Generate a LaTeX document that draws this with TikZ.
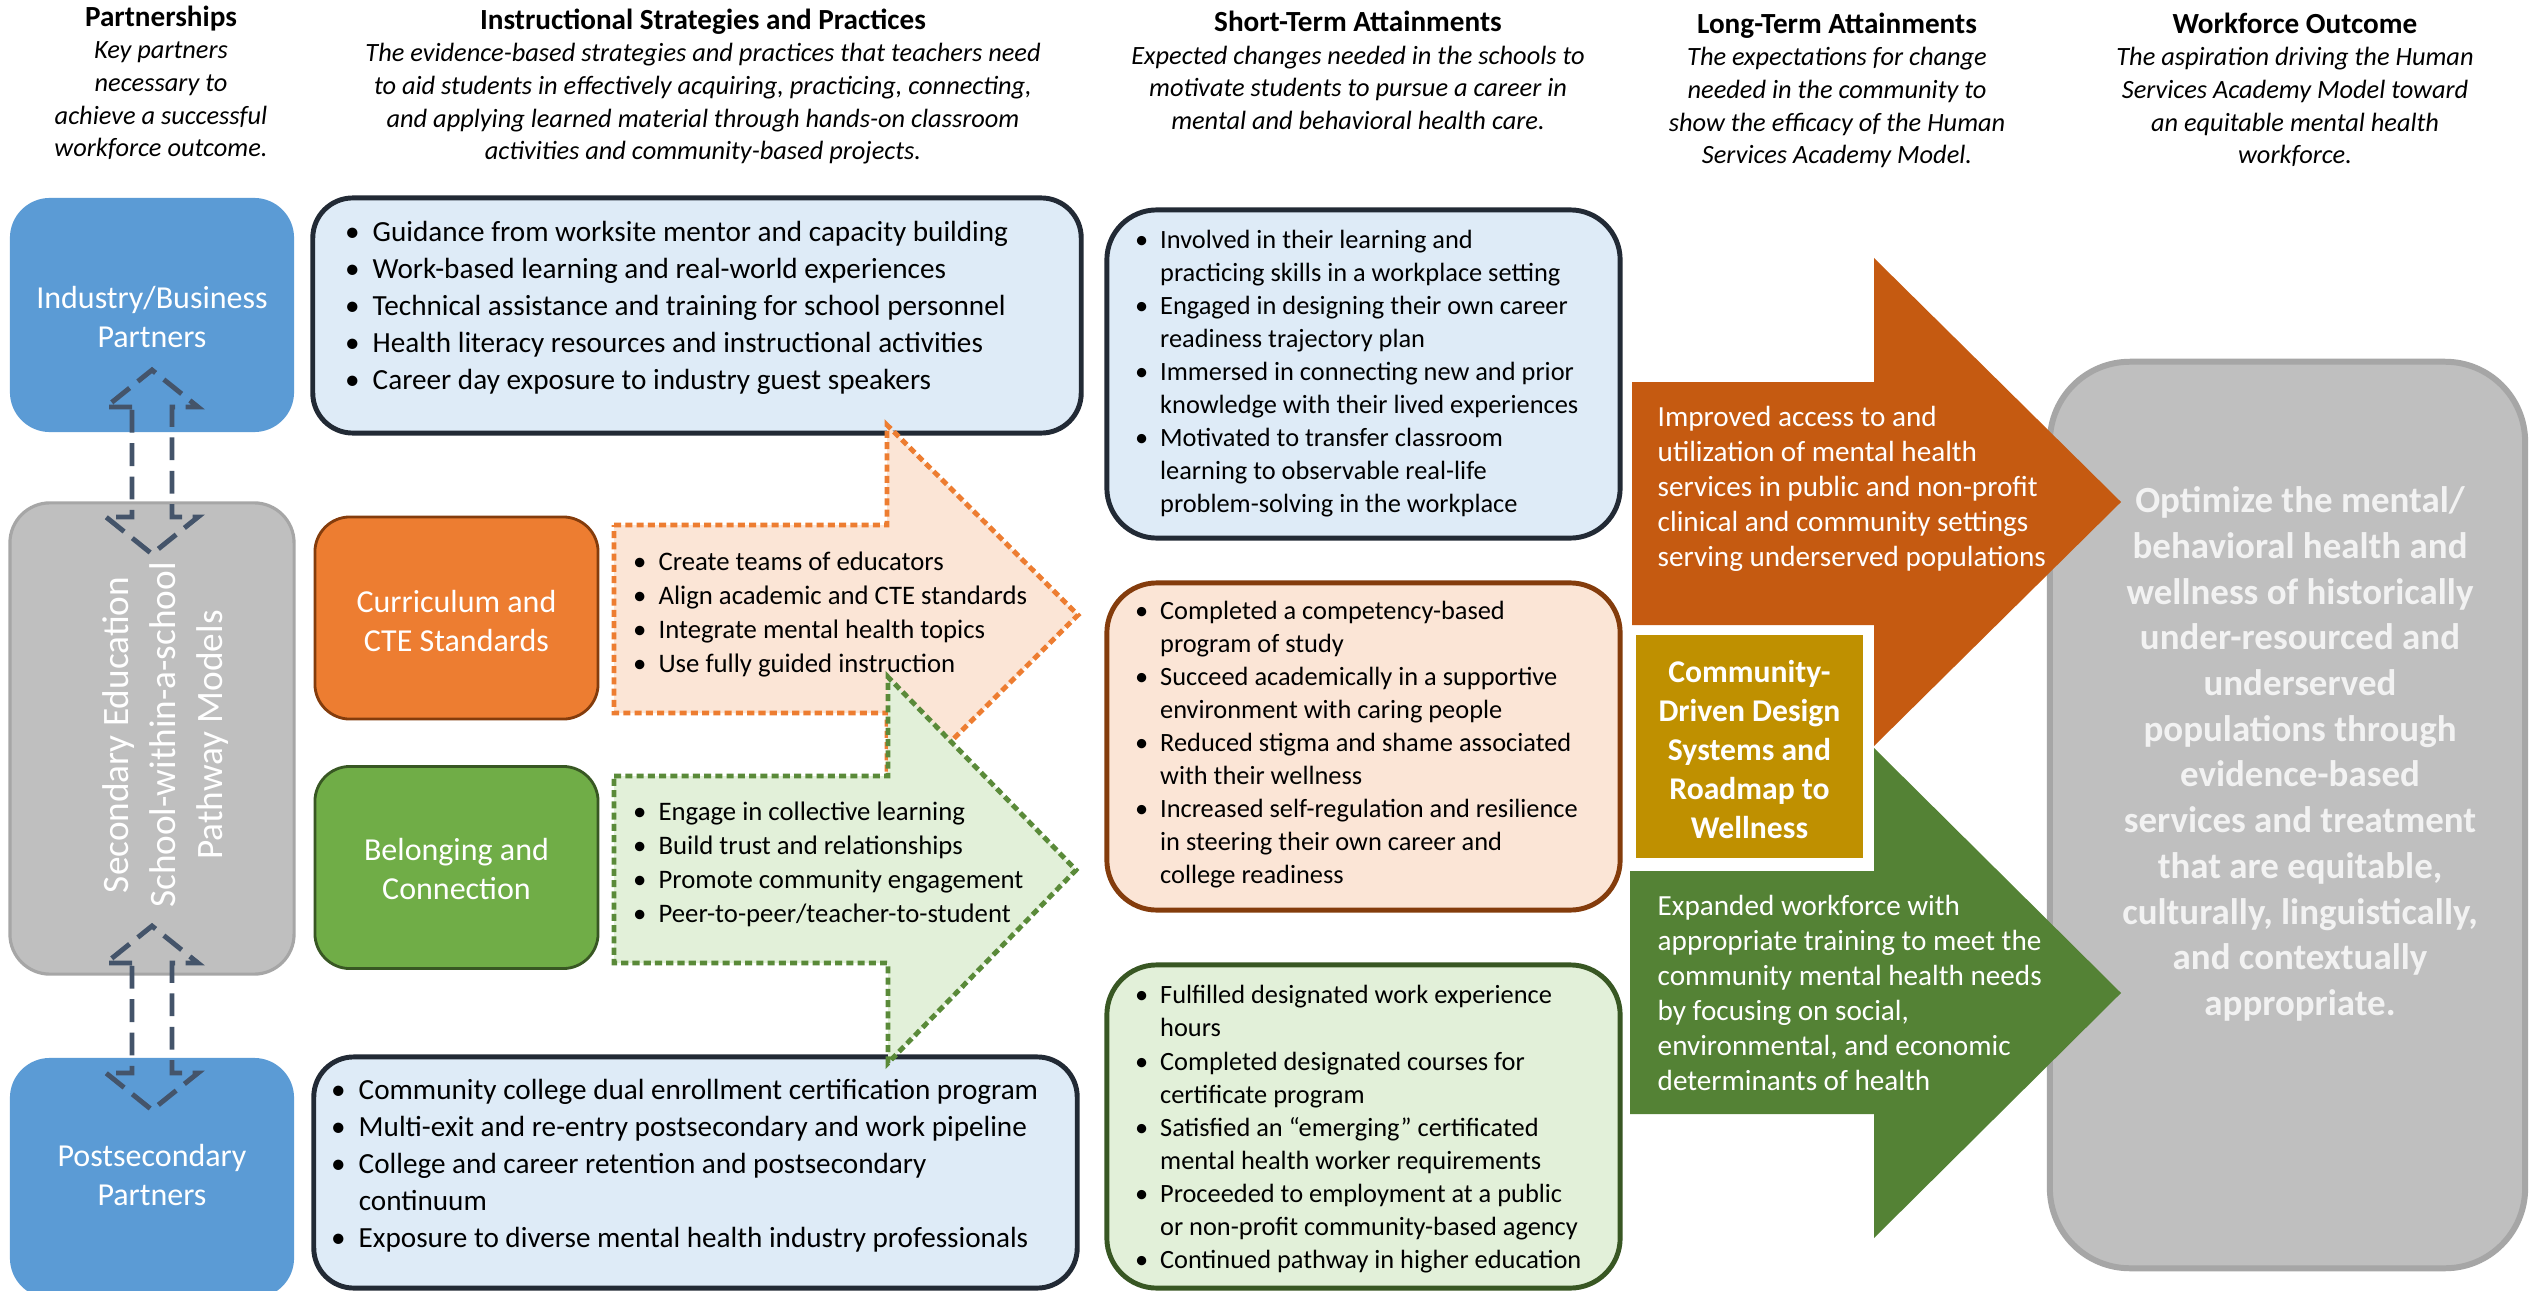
\documentclass[tikz,border=0pt]{standalone}
\usepackage{fontspec}
\setmainfont{Carlito}
\usepackage{tikz}

\definecolor{indblue}{HTML}{5B9BD5}
\definecolor{secgray}{HTML}{BFBFBF}
\definecolor{secedge}{HTML}{A6A6A6}
\definecolor{curorange}{HTML}{ED7D31}
\definecolor{curedge}{HTML}{843C0C}
\definecolor{belgreen}{HTML}{70AD47}
\definecolor{beledge}{HTML}{385723}
\definecolor{paleblue}{HTML}{DEEBF7}
\definecolor{darkedge}{HTML}{222A35}
\definecolor{palepeach}{HTML}{FBE5D6}
\definecolor{palegreen}{HTML}{E2F0D9}
\definecolor{arrowgray}{HTML}{44546A}
\definecolor{ltorange}{HTML}{C55A11}
\definecolor{ltgreen}{HTML}{548235}
\definecolor{gold}{HTML}{BF9000}
\definecolor{outtext}{HTML}{F2F2F2}

\newcommand{\bu}{\makebox[0.95em][l]{\textbullet}}
\newcommand{\nb}{\hspace*{0.95em}}
\newcommand{\hd}[1]{{\upshape\bfseries\fontsize{8.3}{9.25}\selectfont #1}}
\newcommand{\leftlines}[1]{\begin{tabular}{@{}l@{}}#1\end{tabular}}
\newcommand{\midlines}[1]{\begin{tabular}{@{}c@{}}#1\end{tabular}}

\begin{document}
\begin{tikzpicture}[x=0.01cm, y=-0.01cm,
    hdr/.style={font=\itshape\fontsize{7.5}{9.25}\selectfont, inner sep=0pt},
    list/.style={anchor=west, inner sep=0pt},
    label/.style={inner sep=0pt, text=white, font=\fontsize{9.1}{11.1}\selectfont},
    box/.style={rounded corners=0.4cm, line width=1.4pt, inner sep=0pt},
    partner/.style={box, fill=indblue, minimum width=2.84cm},
    theme/.style={box, rounded corners=0.35cm, line width=0.8pt, minimum width=2.83cm,
        minimum height=2.02cm},
    stbox/.style={box, rounded corners=0.5cm, minimum width=5.13cm},
    dotarrow/.style={line width=1.4pt, dash pattern=on 2pt off 1.2pt},
    dasharrow/.style={draw=arrowgray, line width=1.4pt, dash pattern=on 6.5pt off 3pt}]

    \path[use as bounding box, fill=white] (0,0) rectangle (2545,1291);

    %Column headers
    \node[hdr] (hpart) at (161,85) {\midlines{\hd{Partnerships}\\ Key partners\\ necessary to\\
        achieve a successful\\ workforce outcome.}};
    \node[hdr] (hinst) at (703,88) {\midlines{\hd{Instructional Strategies and Practices}\\
        The evidence-based strategies and practices that teachers need\\
        to aid students in effectively acquiring, practicing, connecting,\\
        and applying learned material through hands-on classroom\\
        activities and community-based projects.}};
    \node[hdr] (hshort) at (1358,74) {\midlines{\hd{Short-Term Attainments}\\
        Expected changes needed in the schools to\\ motivate students to pursue a career in\\
        mental and behavioral health care.}};
    \node[hdr] (hlong) at (1837,92) {\midlines{\hd{Long-Term Attainments}\\
        The expectations for change\\ needed in the community to\\
        show the efficacy of the Human\\ Services Academy Model.}};
    \node[hdr] (hwork) at (2295,92) {\midlines{\hd{Workforce Outcome}\\
        The aspiration driving the Human\\ Services Academy Model toward\\
        an equitable mental health\\ workforce.}};

    %Partners
    \node[partner, minimum height=2.34cm] (industry) at (152,315) {};
    \node[label] (industrytxt) at ([yshift=-0.055cm]industry.center) {\midlines{Industry/Business\\ Partners}};
    \node[box, fill=secgray, draw=secedge, line width=0.9pt, minimum width=2.84cm,
        minimum height=4.71cm] (secondary) at (152,738.5) {};
    \node[rotate=90, inner sep=0pt, text=white, font=\fontsize{10.6}{13.4}\selectfont] (sectext)
        at ([xshift=0.14cm, yshift=0.035cm]secondary.center)
        {\midlines{Secondary Education\\ School-within-a-school\\ Pathway Models}};
    \node[partner, minimum height=2.4cm] (postsec) at (152,1178) {};
    \node[label] (postsectxt) at (postsec.center) {\midlines{Postsecondary\\ Partners}};

    %Partner links
    \foreach \c in {462,1018}
        \draw[dasharrow] (132,{\c-55}) -- (106,{\c-55}) -- (152,{\c-92}) -- (198,{\c-55})
            -- (172,{\c-55}) -- (172,{\c+55}) -- (198,{\c+55}) -- (152,{\c+92})
            -- (106,{\c+55}) -- (132,{\c+55}) -- cycle;

    %Instructional strategies
    \node[box, fill=paleblue, draw=darkedge, minimum width=7.68cm, minimum height=2.35cm] (strat1) at (697,315.5) {};
    \node[list, font=\fontsize{8.3}{10.53}\selectfont] (strat1txt) at ([xshift=0.34cm, yshift=0.07cm]strat1.west)
        {\leftlines{\bu Guidance from worksite mentor and capacity building\\
        \bu Work-based learning and real-world experiences\\
        \bu Technical assistance and training for school personnel\\
        \bu Health literacy resources and instructional activities\\
        \bu Career day exposure to industry guest speakers}};
    \node[box, fill=paleblue, draw=darkedge, minimum width=7.63cm, minimum height=2.31cm] (strat2) at (695.5,1172.5) {};
    \node[list, font=\fontsize{8.3}{10.53}\selectfont] (strat2txt) at ([xshift=0.19cm, yshift=0.067cm]strat2.west)
        {\leftlines{\bu Community college dual enrollment certification program\\
        \bu Multi-exit and re-entry postsecondary and work pipeline\\
        \bu College and career retention and postsecondary\\
        \nb continuum\\
        \bu Exposure to diverse mental health industry professionals}};

    \node[theme, fill=curorange, draw=curedge] (curric) at (456.5,618) {};
    \node[label] (currictxt) at ([yshift=-0.06cm]curric.center) {\midlines{Curriculum and\\ CTE Standards}};
    \node[theme, fill=belgreen, draw=beledge] (belong) at (456.5,867.5) {};
    \node[label] (belongtxt) at ([yshift=-0.05cm]belong.center) {\midlines{Belonging and\\ Connection}};

    \filldraw[dotarrow, fill=palepeach, draw=curorange] (614,525) -- (887,525) -- (887,425) -- (1078,615)
        -- (887,805) -- (887,713) -- (614,713) -- cycle;
    \filldraw[dotarrow, fill=palegreen, draw=belgreen!80!black] (614,776) -- (888,776) -- (888,677) -- (1076,870)
        -- (888,1063) -- (888,963) -- (614,963) -- cycle;
    \node[list, font=\fontsize{7.6}{9.65}\selectfont] (curtxt) at (632.5,614.5)
        {\leftlines{\bu Create teams of educators\\ \bu Align academic and CTE standards\\
        \bu Integrate mental health topics\\ \bu Use fully guided instruction}};
    \node[list, font=\fontsize{7.6}{9.65}\selectfont] (beltxt) at (632.5,865)
        {\leftlines{\bu Engage in collective learning\\ \bu Build trust and relationships\\
        \bu Promote community engagement\\ \bu Peer-to-peer/teacher-to-student}};

    %Short-term attainments
    \node[stbox, fill=paleblue, draw=darkedge, minimum height=3.28cm] (short1) at (1363.5,374) {};
    \node[list, font=\fontsize{7.5}{9.4}\selectfont] (short1txt) at ([xshift=0.3cm]short1.west)
        {\leftlines{\bu Involved in their learning and\\ \nb practicing skills in a workplace setting\\
        \bu Engaged in designing their own career\\ \nb readiness trajectory plan\\
        \bu Immersed in connecting new and prior\\ \nb knowledge with their lived experiences\\
        \bu Motivated to transfer classroom\\ \nb learning to observable real-life\\
        \nb problem-solving in the workplace}};
    \node[stbox, fill=palepeach, draw=curedge, minimum height=3.27cm] (short2) at (1363.5,746.5) {};
    \node[list, font=\fontsize{7.5}{9.4}\selectfont] (short2txt) at ([xshift=0.3cm, yshift=0.015cm]short2.west)
        {\leftlines{\bu Completed a competency-based\\ \nb program of study\\
        \bu Succeed academically in a supportive\\ \nb environment with caring people\\
        \bu Reduced stigma and shame associated\\ \nb with their wellness\\
        \bu Increased self-regulation and resilience\\ \nb in steering their own career and\\
        \nb college readiness}};
    \node[stbox, fill=palegreen, draw=beledge, minimum height=3.23cm] (short3) at (1363.5,1126.5) {};
    \node[list, font=\fontsize{7.5}{9.4}\selectfont] (short3txt) at ([xshift=0.3cm, yshift=-0.03cm]short3.west)
        {\leftlines{\bu Fulfilled designated work experience\\ \nb hours\\
        \bu Completed designated courses for\\ \nb certificate program\\
        \bu Satisfied an “emerging” certificated\\ \nb mental health worker requirements\\
        \bu Proceeded to employment at a public\\ \nb or non-profit community-based agency\\
        \bu Continued pathway in higher education}};

    %Workforce outcome
    \node[box, rounded corners=0.8cm, fill=secgray, draw=secedge, line width=1.7pt, minimum width=4.75cm,
        minimum height=9.06cm] (outcome) at (2287.5,815) {};
    \node[inner sep=0pt, text=outtext, font=\bfseries\fontsize{10.5}{13}\selectfont] (outtxt)
        at ([xshift=0.125cm, yshift=0.6cm]outcome.center)
        {\midlines{Optimize the mental/\\ behavioral health and\\ wellness of historically\\
        under-resourced and\\ underserved\\ populations through\\ evidence-based\\
        services and treatment\\ that are equitable,\\ culturally, linguistically,\\
        and contextually\\ appropriate.}};

    %Long-term attainments
    \fill[ltorange] (1632,382) -- (1874,382) -- (1874,258) -- (2121,502) -- (1874,746) -- (1874,625)
        -- (1632,625) -- cycle;
    \fill[ltgreen] (1630,871) -- (1874,871) -- (1874,748) -- (2121,993) -- (1874,1238) -- (1874,1114)
        -- (1630,1114) -- cycle;
    \node[list, text=white, font=\fontsize{8.3}{10}\selectfont] (access) at (1657,489.5)
        {\leftlines{Improved access to and\\ utilization of mental health\\
        services in public and non-profit\\ clinical and community settings\\
        serving underserved populations}};
    \node[list, text=white, font=\fontsize{8.3}{10}\selectfont] (expand) at (1657,996)
        {\leftlines{Expanded workforce with\\ appropriate training to meet the\\
        community mental health needs\\ by focusing on social,\\
        environmental, and economic\\ determinants of health}};
    \node[fill=gold, minimum width=2.27cm, minimum height=2.23cm] (roadmap) at (1749.5,746.5) {};
    \node[label, font=\bfseries\fontsize{9}{11.1}\selectfont] (roadmaptxt) at ([yshift=-0.06cm]roadmap.center)
        {\midlines{Community-\\ Driven Design\\ Systems and\\ Roadmap to\\ Wellness}};

\end{tikzpicture}
\end{document}
